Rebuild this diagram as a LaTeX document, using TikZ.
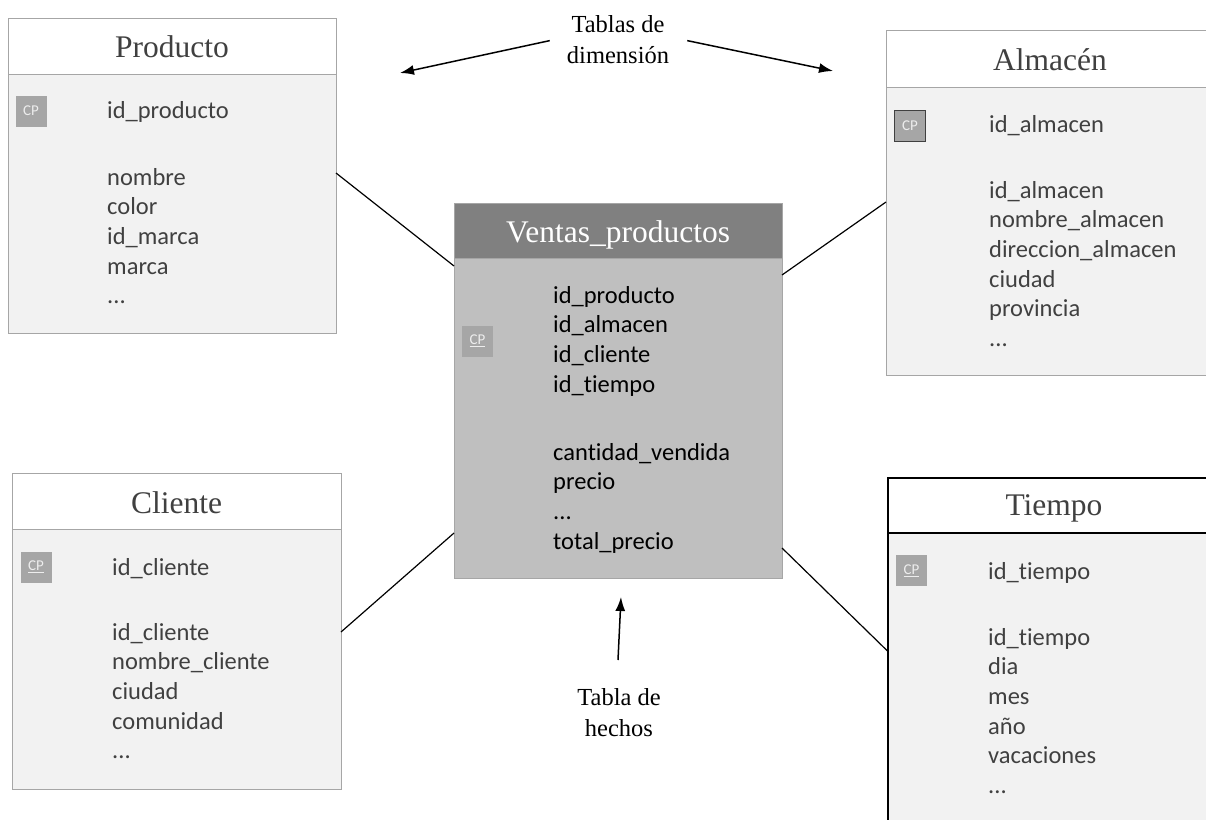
\documentclass[tikz,border=0pt]{standalone}
\usepackage{fontspec}
\setmainfont{Liberation Serif}
\newfontfamily\calfont[Ligatures={NoCommon,NoRequired,NoContextual}]{Carlito}
\usetikzlibrary{arrows.meta}
\newcommand{\tresdots}{...}
\definecolor{dimborder}{HTML}{A6A6A6}
\definecolor{dimbodyc}{HTML}{F2F2F2}
\definecolor{txtgray}{HTML}{404040}
\definecolor{venthead}{HTML}{808080}
\definecolor{ventbodyc}{HTML}{BFBFBF}
\definecolor{cpgray}{HTML}{A6A6A6}
\definecolor{cptxt}{HTML}{EDEDED}
\tikzset{
  boxbase/.style={inner sep=0pt, outer sep=0pt, anchor=north west, line width=1pt},
  dimhead/.style={boxbase, draw=dimborder, fill=white},
  dimbody/.style={boxbase, draw=dimborder, fill=dimbodyc},
  blackhead/.style={boxbase, draw=black, line width=1.5pt, fill=white},
  blackbody/.style={boxbase, draw=black, line width=1.5pt, fill=dimbodyc},
  vhead/.style={boxbase, draw=dimborder, fill=venthead},
  vbody/.style={boxbase, draw=dimborder, fill=ventbodyc},
  title/.style={inner sep=0pt, anchor=base, font=\fontsize{31.5pt}{36pt}\selectfont, text=txtgray},
  field/.style={inner sep=0pt, anchor=base west, font=\calfont\fontsize{24.5pt}{29.7pt}\selectfont, text=txtgray},
  cpicon/.style={fill=cpgray, minimum size=31pt, inner sep=0pt, font=\calfont\fontsize{15pt}{15pt}\selectfont, text=cptxt},
  conn/.style={draw=black, line width=1.2pt},
  arr/.style={draw=black, line width=1.5pt, -{Latex[length=14pt,width=10pt]}},
  lbl/.style={inner sep=0pt, anchor=north, align=center, font=\fontsize{24.5pt}{31pt}\selectfont, text=black}
}
\begin{document}
\begin{tikzpicture}[x=1pt,y=-1pt]
\useasboundingbox (0,0) rectangle (1206,819);
\clip (0,0) rectangle (1206,819);

% Producto
\node[dimbody, minimum width=328pt, minimum height=259pt] (prodbody) at (8,74) {};
\node[dimhead, minimum width=328pt, minimum height=56pt] (prodhead) at (8,18) {};
\node[title] (prodtitle) at (172,57) {Producto};
\node[cpicon] (prodcp) at (31,111) {CP};
\node[field] (prodkey) at (107,118) {id\_producto};
\foreach \t/\y [count=\i] in {nombre/185, color/214.7, id\_marca/244.4, marca/274.1, \tresdots/303.8}
  \node[field] (prodf\i) at (107,\y) {\t};

% Almacen
\node[dimbody, minimum width=328pt, minimum height=288pt] (almbody) at (886,87) {};
\node[dimhead, minimum width=328pt, minimum height=57pt] (almhead) at (886,30) {};
\node[title] (almtitle) at (1050,70) {Almacén};
\node[cpicon, draw=black!75, line width=1pt] (almcp) at (910,125.5) {CP};
\node[field] (almkey) at (989,132) {id\_almacen};
\foreach \t/\y [count=\i] in {id\_almacen/198, nombre\_almacen/227.7, direccion\_almacen/257.4, ciudad/287.1, provincia/316.8, \tresdots/346.5}
  \node[field] (almf\i) at (989,\y) {\t};

% Ventas_productos
\node[vbody, minimum width=328pt, minimum height=320pt] (ventbody) at (454,258) {};
\node[vhead, minimum width=328pt, minimum height=55pt] (venthd) at (454,203) {};
\node[title, text=white] (venttitle) at (618,242) {Ventas\_productos};
\node[cpicon] (ventcp) at (477.5,341) {\underline{CP}};
\foreach \t/\y [count=\i] in {id\_producto/303, id\_almacen/332.7, id\_cliente/362.4, id\_tiempo/392.1, cantidad\_vendida/460, precio/489.7, \tresdots/519.4, total\_precio/549.1}
  \node[field, text=black] (ventf\i) at (553,\y) {\t};

% Cliente
\node[dimbody, minimum width=329pt, minimum height=260pt] (clibody) at (12,529) {};
\node[dimhead, minimum width=329pt, minimum height=56pt] (clihead) at (12,473) {};
\node[title] (clititle) at (176.5,513) {Cliente};
\node[cpicon] (clicp) at (36,567) {\underline{CP}};
\node[field] (clikey) at (112,575) {id\_cliente};
\foreach \t/\y [count=\i] in {id\_cliente/640, nombre\_cliente/669.7, ciudad/699.4, comunidad/729.1, \tresdots/758.8}
  \node[field] (clif\i) at (112,\y) {\t};

% Tiempo
\node[blackbody, minimum width=332pt, minimum height=310pt] (tiembody) at (888,533) {};
\node[blackhead, minimum width=332pt, minimum height=55pt] (tiemhead) at (888,478) {};
\node[title] (tiemtitle) at (1054,515) {Tiempo};
\node[cpicon] (tiemcp) at (911.5,570.5) {\underline{CP}};
\node[field] (tiemkey) at (988,579) {id\_tiempo};
\foreach \t/\y [count=\i] in {id\_tiempo/645, dia/674.7, mes/704.4, año/734.1, vacaciones/763.8, \tresdots/793.5}
  \node[field] (tiemf\i) at (988,\y) {\t};

% connectors
\draw[conn] ([yshift=30.5pt]prodbody.east) -- ([yshift=152pt]ventbody.west);
\draw[conn] ([yshift=29pt]almbody.west) -- ([yshift=143pt]ventbody.east);
\draw[conn] ([yshift=27pt]clibody.east) -- ([yshift=-115pt]ventbody.west);
\draw[conn] ([yshift=36.5pt]tiembody.west) -- ([yshift=-130pt]ventbody.east);

% labels and arrows
\node[lbl] (dimlabel) at (618,15.3) {Tablas de\\dimensión};
\coordinate (dimtipl) at (400,73);
\coordinate (dimtipr) at (833,71);
\draw[arr] ([xshift=-17pt,yshift=-1pt]dimlabel.west) -- (dimtipl);
\draw[arr] ([xshift=18pt,yshift=-1pt]dimlabel.east) -- (dimtipr);

\node[lbl] (hlabel) at (619,688) {Tabla de\\hechos};
\draw[arr] ([xshift=-1pt,yshift=28pt]hlabel.north) -- ([shift={(3pt,-19pt)}]ventbody.south);
\end{tikzpicture}
\end{document}
